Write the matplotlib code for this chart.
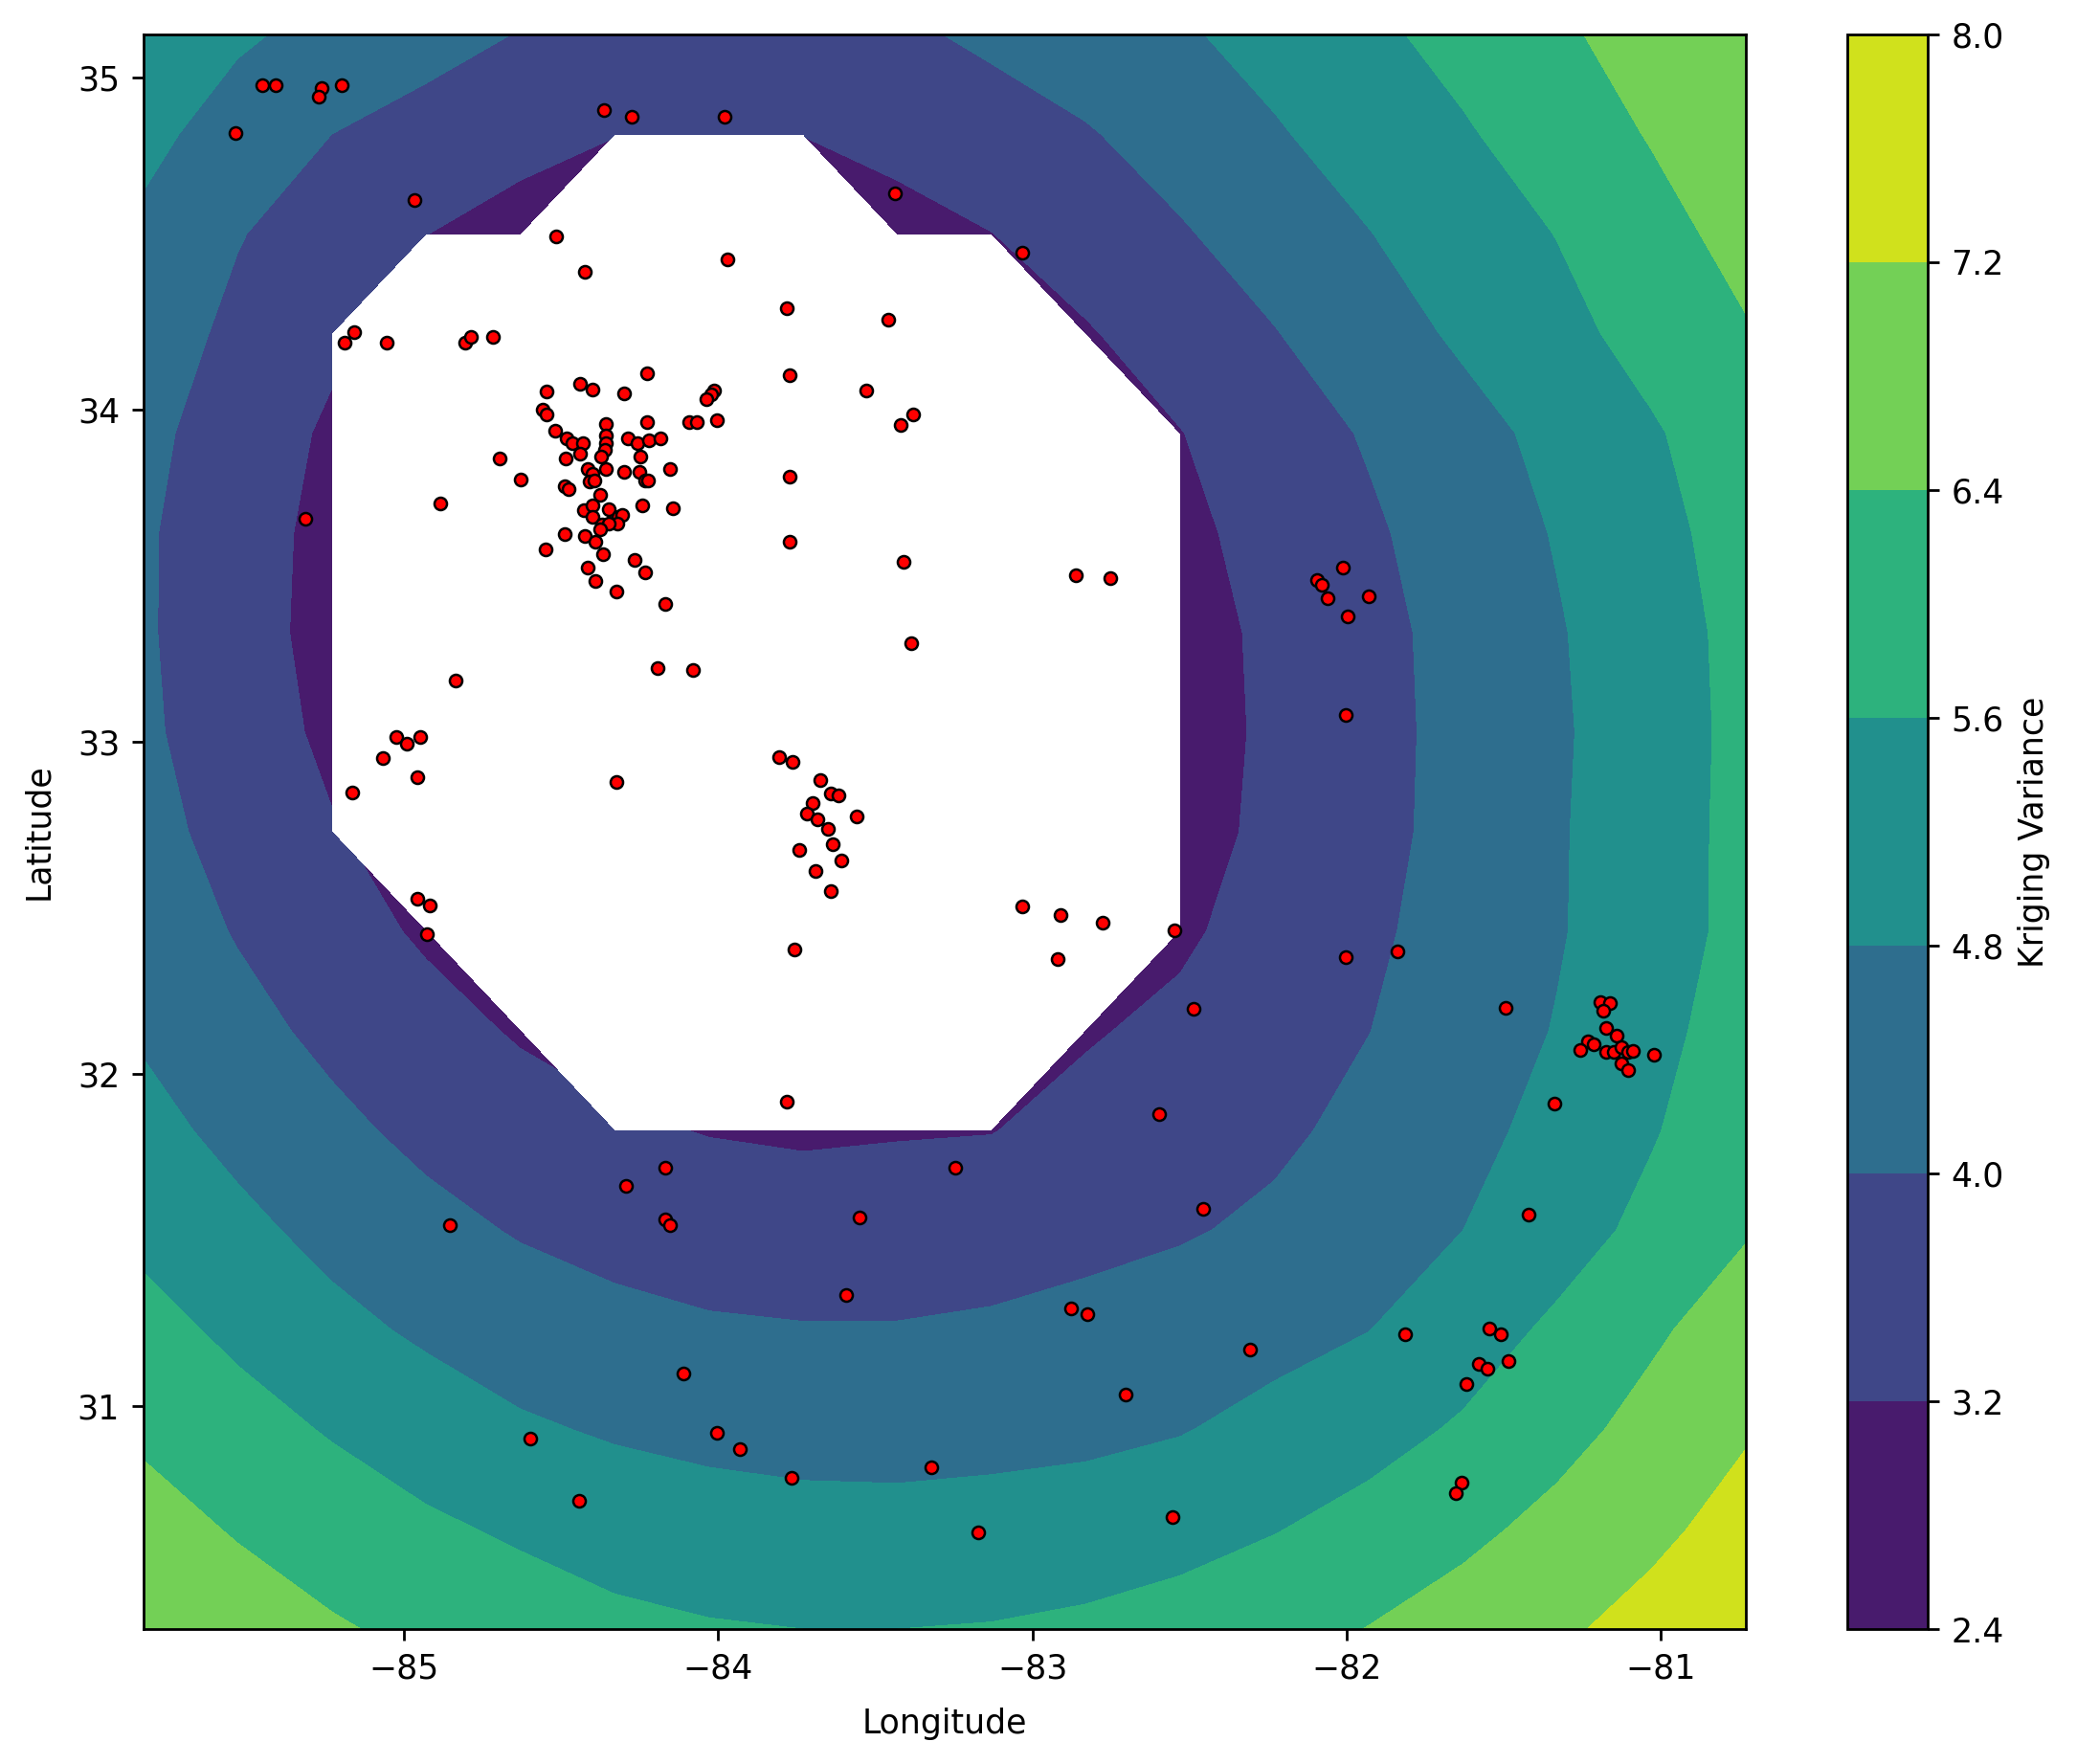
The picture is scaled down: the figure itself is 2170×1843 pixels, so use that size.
import numpy as np
import matplotlib
matplotlib.use("Agg")
import matplotlib.pyplot as plt

nan = float("nan")

# grid of the kriging variance surface (0.3 degree spacing)
grid_lon = [-85.83, -85.53, -85.23, -84.93, -84.63, -84.33, -84.03, -83.73, -83.43,
            -83.13, -82.83, -82.53, -82.23, -81.93, -81.63, -81.33, -81.03, -80.73]
grid_lat = [30.33, 30.63, 30.93, 31.23, 31.53, 31.83, 32.13, 32.43, 32.73,
            33.03, 33.33, 33.63, 33.93, 34.23, 34.53, 34.83, 35.13]

# variance values, one row per latitude (south -> north); nan = no estimate
var_r00 = [7.10, 6.78, 6.48, 6.22, 6.00, 5.79, 5.66, 5.60, 5.60, 5.64, 5.74, 5.90, 6.13, 6.42, 6.74, 7.08, 7.46, 7.88]
var_r01 = [6.70, 6.34, 6.02, 5.73, 5.49, 5.25, 5.13, 5.06, 5.04, 5.08, 5.18, 5.34, 5.57, 5.86, 6.22, 6.62, 7.03, 7.49]
var_r02 = [6.27, 5.89, 5.54, 5.21, 4.90, 4.72, 4.60, 4.53, 4.52, 4.57, 4.62, 4.76, 5.04, 5.33, 5.69, 6.15, 6.65, 7.13]
var_r03 = [5.86, 5.44, 5.01, 4.68, 4.42, 4.22, 4.09, 4.04, 4.04, 4.10, 4.21, 4.38, 4.55, 4.79, 5.24, 5.74, 6.28, 6.80]
var_r04 = [5.41, 4.99, 4.58, 4.23, 3.94, 3.75, 3.62, 3.58, 3.60, 3.68, 3.81, 3.93, 4.14, 4.43, 4.80, 5.27, 5.80, 6.34]
var_r05 = [5.04, 4.59, 4.18, 3.81, 3.53, 3.31, 3.17, 3.10, 3.15, 3.18, 3.45, 3.65, 3.86, 4.20, 4.58, 5.03, 5.54, 6.12]
var_r06 = [4.71, 4.24, 3.82, 3.46, 3.13, nan, nan, nan, nan, nan, 3.13, 3.38, 3.66, 3.99, 4.40, 4.84, 5.38, 5.95]
var_r07 = [4.45, 3.95, 3.50, 3.10, nan, nan, nan, nan, nan, nan, nan, 3.07, 3.54, 3.88, 4.28, 4.74, 5.26, 5.82]
var_r08 = [4.25, 3.73, 3.25, nan, nan, nan, nan, nan, nan, nan, nan, 2.85, 3.41, 3.77, 4.25, 4.73, 5.25, 5.82]
var_r09 = [4.13, 3.57, 3.05, nan, nan, nan, nan, nan, nan, nan, nan, 2.86, 3.34, 3.77, 4.22, 4.70, 5.24, 5.80]
var_r10 = [4.09, 3.51, 2.95, nan, nan, nan, nan, nan, nan, nan, nan, 2.91, 3.35, 3.78, 4.25, 4.74, 5.27, 5.82]
var_r11 = [4.09, 3.54, 2.97, nan, nan, nan, nan, nan, nan, nan, nan, 3.03, 3.45, 3.89, 4.36, 4.85, 5.37, 5.91]
var_r12 = [4.18, 3.65, 3.08, nan, nan, nan, nan, nan, nan, nan, nan, 3.18, 3.63, 4.07, 4.54, 5.01, 5.52, 6.05]
var_r13 = [4.37, 3.84, 3.35, nan, nan, nan, nan, nan, nan, nan, 3.14, 3.55, 3.97, 4.45, 4.92, 5.38, 5.86, 6.34]
var_r14 = [4.66, 4.04, 3.64, 3.21, 2.90, nan, nan, nan, 2.97, 3.19, 3.56, 3.93, 4.35, 4.78, 5.20, 5.62, 6.14, 6.65]
var_r15 = [4.99, 4.49, 4.00, 3.71, 3.46, 3.22, 3.28, 3.21, 3.40, 3.69, 3.94, 4.32, 4.73, 5.13, 5.52, 5.98, 6.45, 6.91]
var_r16 = [5.25, 4.90, 4.59, 4.28, 3.97, 3.83, 3.76, 3.79, 3.88, 4.13, 4.42, 4.71, 5.06, 5.44, 5.85, 6.28, 6.71, 7.15]

levels = [2.4, 3.2, 4.0, 4.8, 5.6, 6.4, 7.2, 8.0]
x_ticks = [-85, -84, -83, -82, -81]
y_ticks = [31, 32, 33, 34, 35]

# observation stations
station_lon = [
    -85.452, -85.409, -85.262, -85.272, -85.197, -85.535,
    -84.365, -84.276, -83.980, -84.967, -83.437, -83.034,
    -84.515, -84.424, -83.970, -83.781, -83.460,
    -85.189, -85.157, -85.056, -84.805, -84.786, -84.718,
    -83.773, -83.529, -83.419, -83.380,
    -84.226, -84.440, -84.399, -84.300, -84.546, -84.558, -84.546, -84.013, -84.023, -84.038,
    -84.094, -84.069, -84.003, -84.226, -84.358, -84.520, -84.482, -84.464, -84.431, -84.358,
    -84.358, -84.361, -84.287, -84.256, -84.219, -84.183, -84.485, -84.441, -84.373, -84.248,
    -84.152, -84.414, -84.399, -84.358, -84.299, -84.250, -84.233, -84.223, -84.490, -84.475,
    -84.409, -84.393, -84.375, -84.243, -84.145, -84.429, -84.399, -84.348, -84.317, -84.307,
    -84.322, -84.399, -84.370, -84.348, -84.375, -84.490, -84.426, -84.391, -84.549, -84.366,
    -84.267, -84.416, -84.234, -84.391, -84.324, -84.169, -84.695, -84.629, -84.884, -85.313,
    -83.773, -83.773, -83.411, -83.387, -84.194, -84.080, -84.835,
    -82.861, -82.754,
    -82.012, -82.095, -82.078, -82.061, -81.929, -81.996, -82.004,
    -85.026, -84.992, -84.949, -85.067, -84.957, -85.166, -84.325,
    -83.807, -83.764, -83.675, -83.643, -83.617, -83.699, -83.717, -83.683, -83.650, -83.559,
    -83.636, -83.742, -83.609, -83.692, -83.643, -83.757, -83.782,
    -84.959, -84.917, -84.926,
    -83.033, -82.910, -82.777, -82.547, -82.919, -82.489, -82.597, -82.003, -81.840, -81.495, -81.339,
    -81.193, -81.164, -81.183, -81.174, -81.232, -81.215, -81.257, -81.141, -81.176, -81.151,
    -81.125, -81.105, -81.090, -81.125, -81.105, -81.024,
    -84.170, -84.294, -84.170, -84.153, -84.853, -83.551, -83.592, -84.112, -84.597, -84.005,
    -83.931, -83.767, -84.442, -83.321, -83.246, -82.457, -81.421, -82.878, -82.825, -82.308,
    -81.816, -81.545, -81.511, -81.579, -81.552, -81.486, -81.620, -82.705, -81.635, -81.653,
    -83.173, -82.555,
]
station_lat = [
    34.976, 34.976, 34.968, 34.942, 34.976, 34.834,
    34.903, 34.882, 34.882, 34.632, 34.653, 34.474,
    34.523, 34.415, 34.454, 34.307, 34.270,
    34.203, 34.235, 34.203, 34.203, 34.219, 34.219,
    34.104, 34.057, 33.954, 33.986,
    34.110, 34.078, 34.062, 34.048, 34.055, 34.000, 33.985, 34.057, 34.046, 34.031,
    33.964, 33.964, 33.969, 33.964, 33.956, 33.937, 33.913, 33.899, 33.899, 33.923,
    33.899, 33.880, 33.913, 33.899, 33.909, 33.913, 33.853, 33.868, 33.860, 33.860,
    33.822, 33.822, 33.808, 33.822, 33.812, 33.812, 33.788, 33.788, 33.769, 33.760,
    33.784, 33.788, 33.745, 33.712, 33.705, 33.697, 33.712, 33.702, 33.678, 33.683,
    33.659, 33.678, 33.654, 33.659, 33.640, 33.627, 33.620, 33.603, 33.580, 33.565,
    33.548, 33.526, 33.510, 33.486, 33.454, 33.416, 33.854, 33.790, 33.719, 33.673,
    33.798, 33.602, 33.541, 33.298, 33.224, 33.216, 33.186,
    33.502, 33.494,
    33.525, 33.487, 33.472, 33.433, 33.440, 33.378, 33.082,
    33.014, 32.996, 33.014, 32.951, 32.895, 32.849, 32.880,
    32.954, 32.940, 32.886, 32.846, 32.839, 32.817, 32.784, 32.768, 32.738, 32.776,
    32.692, 32.676, 32.644, 32.612, 32.550, 32.377, 31.918,
    32.528, 32.509, 32.423,
    32.504, 32.480, 32.457, 32.432, 32.347, 32.198, 31.879, 32.353, 32.370, 32.200, 31.912,
    32.217, 32.215, 32.190, 32.138, 32.100, 32.089, 32.074, 32.117, 32.066, 32.066,
    32.083, 32.066, 32.070, 32.032, 32.013, 32.060,
    31.719, 31.663, 31.562, 31.546, 31.546, 31.569, 31.335, 31.100, 30.903, 30.921,
    30.872, 30.785, 30.716, 30.818, 31.719, 31.594, 31.578, 31.296, 31.279, 31.170,
    31.216, 31.234, 31.216, 31.129, 31.114, 31.137, 31.069, 31.037, 30.770, 30.739,
    30.620, 30.668,
]

plt.rcParams.update({
    "font.size": 12.5,
    "axes.linewidth": 1.0,
    "xtick.major.size": 4.4,
    "ytick.major.size": 4.4,
    "xtick.major.width": 1.0,
    "ytick.major.width": 1.0,
    "xtick.major.pad": 4.4,
    "ytick.major.pad": 4.4,
    "axes.labelpad": 8.5,
})

variance = np.ma.masked_invalid(np.array([
    var_r00, var_r01, var_r02, var_r03, var_r04, var_r05, var_r06, var_r07, var_r08,
    var_r09, var_r10, var_r11, var_r12, var_r13, var_r14, var_r15, var_r16,
]))
LON, LAT = np.meshgrid(grid_lon, grid_lat)

fig = plt.figure(figsize=(10.85, 9.215), dpi=200)
ax = fig.add_axes([0.0689, 0.0765, 0.7717, 0.904])
cax = fig.add_axes([0.8894, 0.0765, 0.0387, 0.904])

cs = ax.contourf(LON, LAT, variance, levels=levels, cmap="viridis")
ax.scatter(station_lon, station_lat, c="red", edgecolors="black", s=22,
           linewidths=0.9, zorder=3)

ax.set_xticks(x_ticks)
ax.set_yticks(y_ticks)
ax.set_xlim(grid_lon[0], grid_lon[-1])
ax.set_ylim(grid_lat[0], grid_lat[-1])
ax.set_xlabel("Longitude")
ax.set_ylabel("Latitude")

cbar = fig.colorbar(cs, cax=cax)
cbar.set_ticks(levels)
cbar.set_label("Kriging Variance", labelpad=5.0)

fig.savefig("out.png", dpi=200)
